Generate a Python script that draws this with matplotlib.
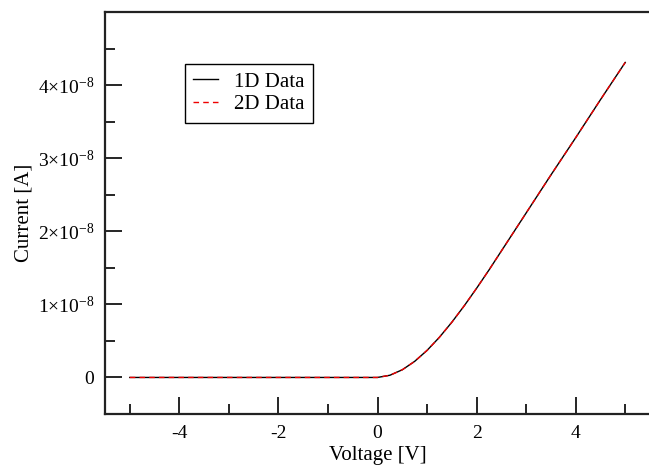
import matplotlib
matplotlib.use("Agg")
import matplotlib.pyplot as plt
import numpy as np

# I-V characteristic (current in units of 1e-8 A)
voltage = [-5.0, -4.0, -3.0, -2.0, -1.0, 0.0, 0.25, 0.5, 0.75, 1.0, 1.25, 1.5,
           1.75, 2.0, 2.25, 2.5, 2.75, 3.0, 3.5, 4.0, 4.5, 5.0]
current_1d = [0.0, 0.0, 0.0, 0.0, 0.0, 0.0, 0.03, 0.105, 0.22, 0.37, 0.55, 0.755,
              0.98, 1.22, 1.47, 1.73, 1.99, 2.25, 2.77, 3.28, 3.80, 4.31]
current_2d = [0.0, 0.0, 0.0, 0.0, 0.0, 0.0, 0.03, 0.105, 0.22, 0.37, 0.55, 0.755,
              0.98, 1.22, 1.47, 1.73, 1.99, 2.25, 2.77, 3.28, 3.80, 4.31]

x_ticks = [-4, -2, 0, 2, 4]
x_tick_labels = ["-4", "-2", "0", "2", "4"]
y_ticks = [0, 1, 2, 3, 4]
y_tick_labels = ["0", r"1$\times$10$^{-8}$", r"2$\times$10$^{-8}$",
                 r"3$\times$10$^{-8}$", r"4$\times$10$^{-8}$"]
series_names = ["1D Data", "2D Data"]

plt.rcParams["font.family"] = ["Liberation Serif", "DejaVu Serif"]
plt.rcParams["mathtext.fontset"] = "custom"
plt.rcParams["mathtext.rm"] = "Liberation Serif"
plt.rcParams["mathtext.it"] = "Liberation Serif:italic"

fig = plt.figure(figsize=(6.49, 4.66), dpi=100)
ax = fig.add_axes([105 / 649, 52 / 466, 545 / 649, 402 / 466])

ax.plot(voltage, current_1d, color="black", lw=1.0, label=series_names[0])
ax.plot(voltage, current_2d, color="#ee0000", lw=1.0, ls=(0, (4, 3)),
        label=series_names[1])

ax.set_xlim(-5.5, 5.5)
ax.set_ylim(-0.5, 5.0)
ax.set_xticks(x_ticks)
ax.set_xticklabels(x_tick_labels)
ax.set_xticks(np.arange(-5, 6, 2), minor=True)
ax.set_yticks(y_ticks)
ax.set_yticklabels(y_tick_labels)
ax.set_yticks(np.arange(-0.5, 5.0, 1.0), minor=True)

ax.tick_params(axis="both", which="major", direction="in", length=12,
               width=1.2, labelsize=14, pad=8, top=False, right=False)
ax.tick_params(axis="both", which="minor", direction="in", length=7,
               width=1.2, top=False, right=False)
for s in ax.spines.values():
    s.set_linewidth(1.6)
    s.set_color("#222222")
ax.spines["right"].set_visible(False)

ax.set_xlabel("Voltage [V]", fontsize=15, labelpad=3)
ax.set_ylabel("Current [A]", fontsize=15, labelpad=3)

leg = ax.legend(loc="upper left", bbox_to_anchor=(0.147, 0.871),
                borderaxespad=0, fontsize=15, fancybox=False, framealpha=1,
                edgecolor="black", handlelength=1.2, handletextpad=0.75,
                borderpad=0.4, labelspacing=0.15)
leg.get_frame().set_linewidth(1.0)

fig.savefig("out.png", dpi=100)
